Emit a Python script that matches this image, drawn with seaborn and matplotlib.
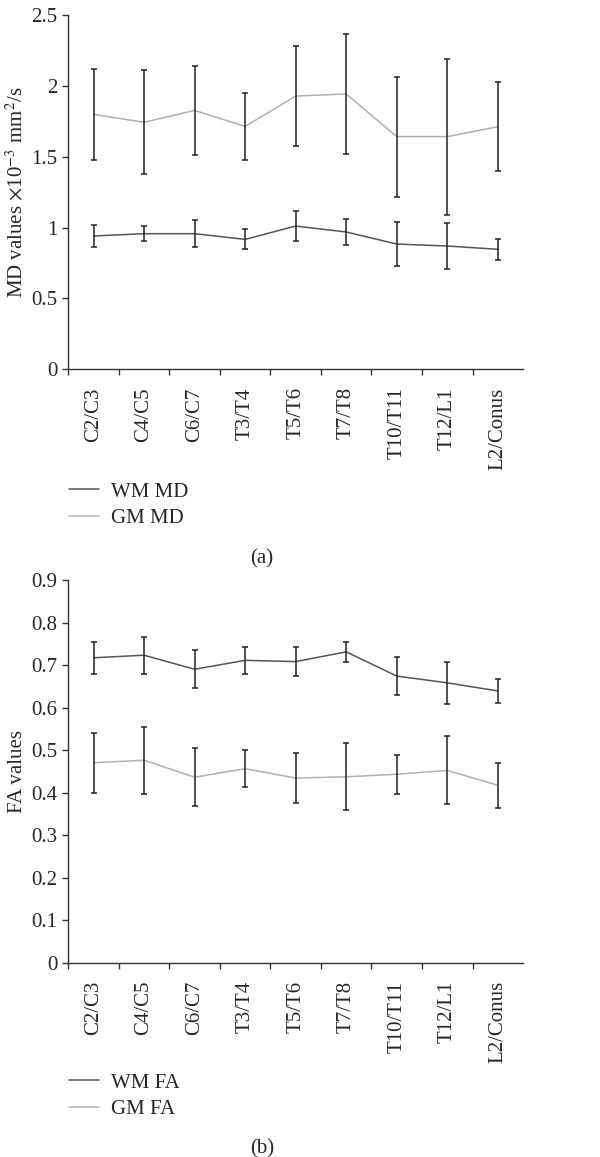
import numpy as np
import pandas as pd
import seaborn as sns
import matplotlib.pyplot as plt

levels = ['C2/C3', 'C4/C5', 'C6/C7', 'T3/T4', 'T5/T6', 'T7/T8', 'T10/T11', 'T12/L1', 'L2/Conus']

wm_md = [0.941, 0.957, 0.957, 0.917, 1.011, 0.969, 0.884, 0.870, 0.847]
wm_md_sd = [0.078, 0.053, 0.097, 0.070, 0.106, 0.095, 0.157, 0.159, 0.075]
gm_md = [1.799, 1.743, 1.827, 1.714, 1.928, 1.943, 1.642, 1.642, 1.712]
gm_md_sd = [0.322, 0.368, 0.316, 0.234, 0.354, 0.422, 0.424, 0.551, 0.316]

wm_fa = [0.717, 0.723, 0.690, 0.711, 0.708, 0.731, 0.674, 0.658, 0.639]
wm_fa_sd = [0.037, 0.044, 0.045, 0.031, 0.035, 0.024, 0.045, 0.050, 0.029]
gm_fa = [0.470, 0.476, 0.436, 0.456, 0.434, 0.437, 0.443, 0.452, 0.417]
gm_fa_sd = [0.070, 0.079, 0.068, 0.043, 0.058, 0.079, 0.046, 0.080, 0.053]

sns.set_style("ticks")
plt.rcParams['font.family'] = ['Liberation Serif', 'DejaVu Serif']
plt.rcParams['mathtext.fontset'] = 'stix'
plt.rcParams['font.size'] = 15

wm_color = '#555555'
gm_color = '#b0b0b0'
err_color = '#222222'

fig = plt.figure(figsize=(6, 11.57), dpi=100)
ax1 = fig.add_axes([0.1138, 0.6808, 0.758, 0.3062])
ax2 = fig.add_axes([0.1138, 0.1681, 0.758, 0.3306])


def draw_panel(ax, wm, wm_sd, gm, gm_sd, names, ylim, yticks, yticklabels, ylabel, legend_y):
    x = np.arange(len(levels))
    df = pd.DataFrame({
        'pos': np.concatenate([x, x]),
        'value': wm + gm,
        'series': [names[0]] * len(levels) + [names[1]] * len(levels),
    })
    sns.lineplot(data=df, x='pos', y='value', hue='series', hue_order=names,
                 palette=[wm_color, gm_color], linewidth=1.1, ax=ax, legend=True)
    for vals, sd in [(wm, wm_sd), (gm, gm_sd)]:
        ax.errorbar(x, vals, yerr=sd, fmt='none', ecolor=err_color,
                    elinewidth=1.1, capsize=2.4, capthick=1.1, zorder=3)
    ax.set_xlim(-0.5, len(levels) - 0.5)
    ax.set_ylim(*ylim)
    ax.set_xticks(x)
    ax.set_xticklabels(levels, rotation=90)
    ax.set_xticks(np.arange(len(levels)) - 0.5, minor=True)
    ax.tick_params(axis='x', which='major', length=0, pad=13)
    ax.tick_params(axis='x', which='minor', length=4, width=1, direction='out', color='#333333')
    ax.set_yticks(yticks)
    ax.set_yticklabels(yticklabels)
    ax.tick_params(axis='y', length=4, width=1, direction='out', color='#333333', pad=4)
    ax.set_xlabel('')
    ax.set_ylabel(ylabel, labelpad=3, fontsize=15)
    sns.despine(ax=ax)
    for s in ['left', 'bottom']:
        ax.spines[s].set_color('#333333')
        ax.spines[s].set_linewidth(1)
    ax.legend(loc='upper left', bbox_to_anchor=(0.115, legend_y), bbox_transform=fig.transFigure,
              frameon=False, handlelength=1.45, handletextpad=0.55, labelspacing=0.35,
              borderpad=0, borderaxespad=0, fontsize=15)


draw_panel(ax1, wm_md, wm_md_sd, gm_md, gm_md_sd, ['WM MD', 'GM MD'],
           (0, 2.5), [0, 0.5, 1, 1.5, 2, 2.5], ['0', '0.5', '1', '1.5', '2', '2.5'],
           r'MD values $\times$10$^{-3}$ mm$^{2}$/s', 1 - 482 / 1157)
draw_panel(ax2, wm_fa, wm_fa_sd, gm_fa, gm_fa_sd, ['WM FA', 'GM FA'],
           (0, 0.9), np.round(np.arange(0, 0.95, 0.1), 1),
           ['0', '0.1', '0.2', '0.3', '0.4', '0.5', '0.6', '0.7', '0.8', '0.9'],
           'FA values', 1 - 1073 / 1157)

fig.text(262 / 600, 1 - 559 / 1157, '(a)', ha='center', va='center', fontsize=15)
fig.text(262 / 600, 1 - 1149 / 1157, '(b)', ha='center', va='center', fontsize=15)

fig.savefig('out.png', dpi=100)
